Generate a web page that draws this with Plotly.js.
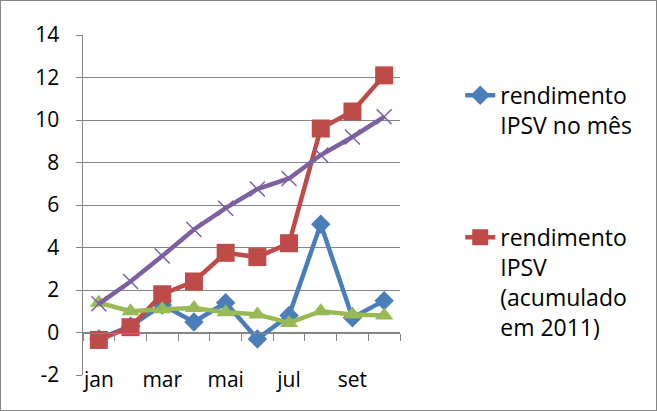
<!DOCTYPE html>
<html><head><meta charset="utf-8">
<script src="https://cdn.plot.ly/plotly-3.0.1.min.js"></script>
<style>
html,body{margin:0;padding:0;background:#fff;}
#chart{width:655px;height:409px;border:1px solid #868686;}
</style></head>
<body><div id="chart"></div>
<script>
const months = ['jan','fev','mar','abr','mai','jun','jul','ago','set','out'];
const tickLabels = ['jan','mar','mai','jul','set'];
const yTicks = [-2, 0, 2, 4, 6, 8, 10, 12, 14];
const rendMes = [-0.3, 0.3, 1.3, 0.5, 1.4, -0.3, 0.8, 5.1, 0.7, 1.5];
const rendAcum = [-0.35, 0.25, 1.8, 2.4, 3.75, 3.55, 4.2, 9.6, 10.4, 12.1];
const serie3 = [1.4, 1.0, 1.1, 1.15, 0.95, 0.85, 0.45, 1.0, 0.85, 0.8];
const serie4 = [1.35, 2.4, 3.6, 4.85, 5.85, 6.75, 7.25, 8.35, 9.2, 10.15];
const names = ['rendimento<br>IPSV no mês','rendimento<br>IPSV<br>(acumulado<br>em 2011)'];

const traces = [
 {x:[0, months.length], y:[0, 0], xaxis:'x2', yaxis:'y2', mode:'lines', line:{width:0}, opacity:0, showlegend:false, hoverinfo:'skip'},
 {x:months, y:rendMes, name:names[0], mode:'lines+markers', legend:'legend',
  line:{color:'#4A7EBB', width:4.5}, marker:{symbol:'diamond', size:15, color:'#4A7EBB'}},
 {x:months, y:rendAcum, name:names[1], mode:'lines+markers', legend:'legend2',
  line:{color:'#BE4B48', width:4.5}, marker:{symbol:'square', size:18, color:'#BE4B48'}},
 {x:months, y:serie3, name:'s3', mode:'lines+markers', showlegend:false,
  line:{color:'#98B954', width:4.5}, marker:{symbol:'triangle-up', size:16, color:'#98B954'}},
 {x:months, y:serie4, name:'s4', mode:'lines+markers', showlegend:false,
  line:{color:'#7D60A0', width:4.5}, marker:{symbol:'x-thin-open', size:15, color:'#7D60A0', line:{width:1.5, color:'#7D60A0'}}}
];

const tickFont = {family:'"Open Sans", "Liberation Sans", sans-serif', size:21, color:'#000'};
const legFont = {family:'"Open Sans", "Liberation Sans", sans-serif', size:23, color:'#000'};
const layout = {
  width:655, height:409,
  margin:{l:82, r:256, t:34, b:35},
  paper_bgcolor:'#fff', plot_bgcolor:'rgba(0,0,0,0)',
  font:tickFont, showlegend:true,
  xaxis:{type:'category', categoryarray:months, range:[-0.5,9.5], tickvals:tickLabels, ticktext:tickLabels,
    showgrid:false, showline:false, zeroline:false, ticks:'', ticklabelstandoff:-10, tickfont:tickFont},
  xaxis2:{anchor:'y2', type:'linear', range:[0,10], tick0:0, dtick:1,
    showline:true, linecolor:'#868686', linewidth:1.5, ticks:'outside', ticklen:7, tickcolor:'#868686',
    showticklabels:false, showgrid:false, zeroline:false, side:'bottom'},
  yaxis2:{domain:[0.125,1], range:[0,1], visible:false, showgrid:false, zeroline:false},
  yaxis:{range:[-2,14], tickmode:'array', tickvals:yTicks, ticktext:yTicks.map(String), showgrid:true, gridcolor:'#868686', gridwidth:1,
    zeroline:true, zerolinecolor:'#868686', zerolinewidth:1.5, showline:true, linecolor:'#868686', linewidth:1.5, ticks:'outside', ticklen:6,
    tickcolor:'#868686', ticklabelstandoff:12, tickfont:tickFont},
  legend:{x:1.19, y:0.886, xanchor:'left', yanchor:'top', valign:'top', font:legFont, bgcolor:'rgba(0,0,0,0)'},
  legend2:{x:1.19, y:0.468, xanchor:'left', yanchor:'top', valign:'top', font:legFont, bgcolor:'rgba(0,0,0,0)'},
};
Plotly.newPlot('chart', traces, layout, {displayModeBar:false, staticPlot:true});
</script></body></html>
